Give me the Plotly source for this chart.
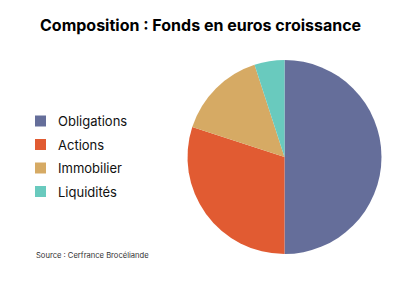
import plotly.graph_objects as go

labels = ["Obligations", "Actions", "Immobilier", "Liquidités"]
values = [50, 30, 15, 5]
colors = ["#656E9A", "#E15B32", "#D6AA64", "#69CABE"]
title_text = "Composition : Fonds en euros croissance"
source_text = "Source : Cerfrance Brocéliande"

W, H = 400, 282
FONT = "Inter, 'Noto Sans', sans-serif"

fig = go.Figure(go.Pie(
    labels=labels, values=values, sort=False, direction="clockwise", rotation=0,
    marker=dict(colors=colors, line=dict(width=0)),
    textinfo="none", hoverinfo="label+percent",
    domain=dict(x=[(284.5 - 97) / W, (284.5 + 97) / W], y=[1 - 254 / H, 1 - 60 / H]),
    showlegend=False,
))

shapes = []
annotations = []
y0, dy = 121, 23.5
for i, (lab, col) in enumerate(zip(labels, colors)):
    yc = y0 + i * dy
    shapes.append(dict(type="rect", xref="paper", yref="paper",
                       x0=35 / W, x1=46 / W, y0=1 - (yc + 5.5) / H, y1=1 - (yc - 5.5) / H,
                       fillcolor=col, line=dict(width=0)))
    annotations.append(dict(text=lab, xref="paper", yref="paper", x=56 / W, y=1 - yc / H,
                            xanchor="left", yanchor="middle", showarrow=False,
                            font=dict(family=FONT, size=13, color="#111111")))

annotations.append(dict(text=title_text, xref="paper", yref="paper", x=0.5, y=1 - 25 / H,
                        xanchor="center", yanchor="middle", showarrow=False,
                        font=dict(family=FONT, size=16, color="#000000", weight="bold")))
annotations.append(dict(text=source_text, xref="paper", yref="paper", x=34 / W, y=1 - 255 / H,
                        xanchor="left", yanchor="middle", showarrow=False,
                        font=dict(family=FONT, size=7.6, color="#333333")))

fig.update_layout(
    width=W, height=H, margin=dict(l=0, r=0, t=0, b=0),
    paper_bgcolor="white", plot_bgcolor="white",
    shapes=shapes, annotations=annotations,
)
fig.write_html("out.html")
